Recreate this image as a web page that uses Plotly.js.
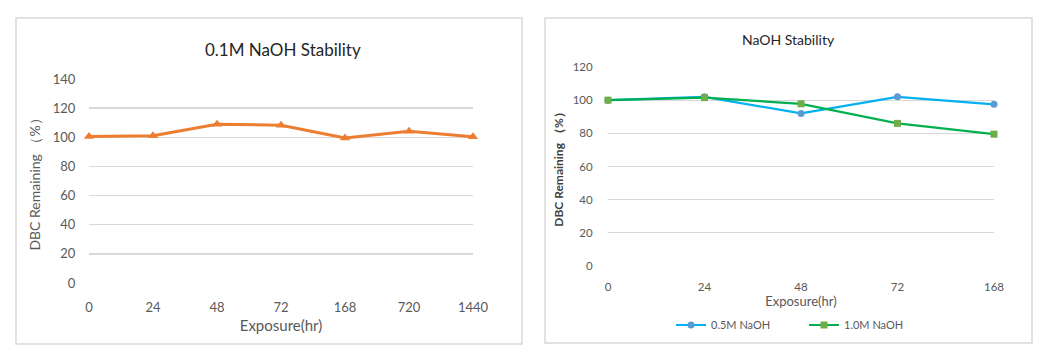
<!DOCTYPE html>
<html><head><meta charset="utf-8">
<script src="https://cdn.plot.ly/plotly-3.0.1.min.js"></script>
<style>html,body{margin:0;padding:0;background:#fff}#chart{width:1052px;height:362px}</style>
</head><body><div id="chart"></div>
<script>
// Left chart: 0.1M NaOH
const leftCategories = ['0','24','48','72','168','720','1440'];
const leftValues = [100.5, 101, 109, 108.3, 99.5, 104.2, 100.4];
// Right chart: 0.5M and 1.0M NaOH
const rightCategories = ['0','24','48','72','168'];
const halfMolarValues = [100, 102, 92, 102, 97.5];
const oneMolarValues = [100, 101.5, 97.8, 86, 79.5];
const seriesNames = ['0.5M NaOH', '1.0M NaOH'];

const W = 1052, H = 362;
const px = v => v / W, py = v => 1 - v / H;
const font = 'Lato, "Open Sans", sans-serif';
const grey = '#595959';

const traces = [
  {x: leftCategories, y: leftValues, xaxis: 'x', yaxis: 'y', mode: 'lines+markers', showlegend: false,
   line: {color: '#ED7D31', width: 3}, marker: {symbol: 'triangle-up', size: 9, color: '#ED7D31'}, cliponaxis: false, name: '0.1M NaOH'},
  {x: rightCategories, y: halfMolarValues, xaxis: 'x2', yaxis: 'y2', mode: 'lines+markers', name: seriesNames[0],
   line: {color: '#00B0F0', width: 2.2}, marker: {symbol: 'circle', size: 7, color: '#5B9BD5'}, cliponaxis: false},
  {x: rightCategories, y: oneMolarValues, xaxis: 'x2', yaxis: 'y2', mode: 'lines+markers', name: seriesNames[1],
   line: {color: '#00B050', width: 2.2}, marker: {symbol: 'square', size: 7, color: '#70AD47'}, cliponaxis: false}
];

const layout = {
  width: W, height: H, margin: {l: 0, r: 0, t: 0, b: 0},
  paper_bgcolor: '#fff', plot_bgcolor: '#fff',
  font: {family: font, color: grey},
  xaxis: {domain: [px(89), px(473)], type: 'category', range: [0, 6], showgrid: false, zeroline: false,
    showline: false, ticks: 'outside', ticklen: 12, tickcolor: 'rgba(0,0,0,0)', tickfont: {size: 13, color: grey},
    title: {text: 'Exposure(hr)', font: {size: 15, color: grey}, standoff: 6}, fixedrange: true},
  yaxis: {domain: [py(283), py(79)], range: [0, 140], dtick: 20, gridcolor: '#d9d9d9', gridwidth: 1.3, zeroline: false,
    showline: false, ticks: 'outside', ticklen: 10, tickcolor: 'rgba(0,0,0,0)', tickfont: {size: 13, color: grey},
    title: {text: 'DBC Remaining （%）', font: {size: 14, color: grey}, standoff: 8}},
  xaxis2: {domain: [px(608), px(994)], type: 'category', range: [0, 4], showgrid: false, zeroline: false,
    showline: false, ticks: 'outside', ticklen: 10, tickcolor: 'rgba(0,0,0,0)', tickfont: {size: 11.5, color: grey}, anchor: 'y2',
    title: {text: 'Exposure(hr)', font: {size: 13, color: grey}, standoff: 3}},
  yaxis2: {domain: [py(266), py(67)], range: [0, 120], dtick: 20, gridcolor: '#d9d9d9', gridwidth: 1.3, zeroline: false,
    showline: false, ticks: 'outside', ticklen: 12, tickcolor: 'rgba(0,0,0,0)', tickfont: {size: 11.5, color: grey}, anchor: 'x2',
    title: {text: '<b>DBC Remaining （%）</b>', font: {size: 12, color: '#404040'}, standoff: 6}},
  legend: {orientation: 'h', x: px(671), xanchor: 'left', y: py(325), yanchor: 'middle',
    font: {size: 11, color: grey}, itemwidth: 30, tracegroupgap: 0, entrywidth: 88},
  annotations: [
    {text: '0.1M NaOH Stability', xref: 'paper', yref: 'paper', x: px(283), y: py(49), xanchor: 'center', yanchor: 'middle',
     showarrow: false, font: {size: 17, color: '#262626'}},
    {text: 'NaOH Stability', xref: 'paper', yref: 'paper', x: px(788), y: py(40), xanchor: 'center', yanchor: 'middle',
     showarrow: false, font: {size: 14, color: '#262626'}}
  ],
  shapes: [
    {type: 'rect', xref: 'paper', yref: 'paper', x0: px(16), x1: px(522), y0: py(344), y1: py(18), line: {color: '#d9d9d9', width: 1.5}},
    {type: 'rect', xref: 'paper', yref: 'paper', x0: px(545), x1: px(1032), y0: py(343), y1: py(18), line: {color: '#d9d9d9', width: 1.5}}
  ]
};
Plotly.newPlot('chart', traces, layout, {displayModeBar: false, staticPlot: true});
</script></body></html>
